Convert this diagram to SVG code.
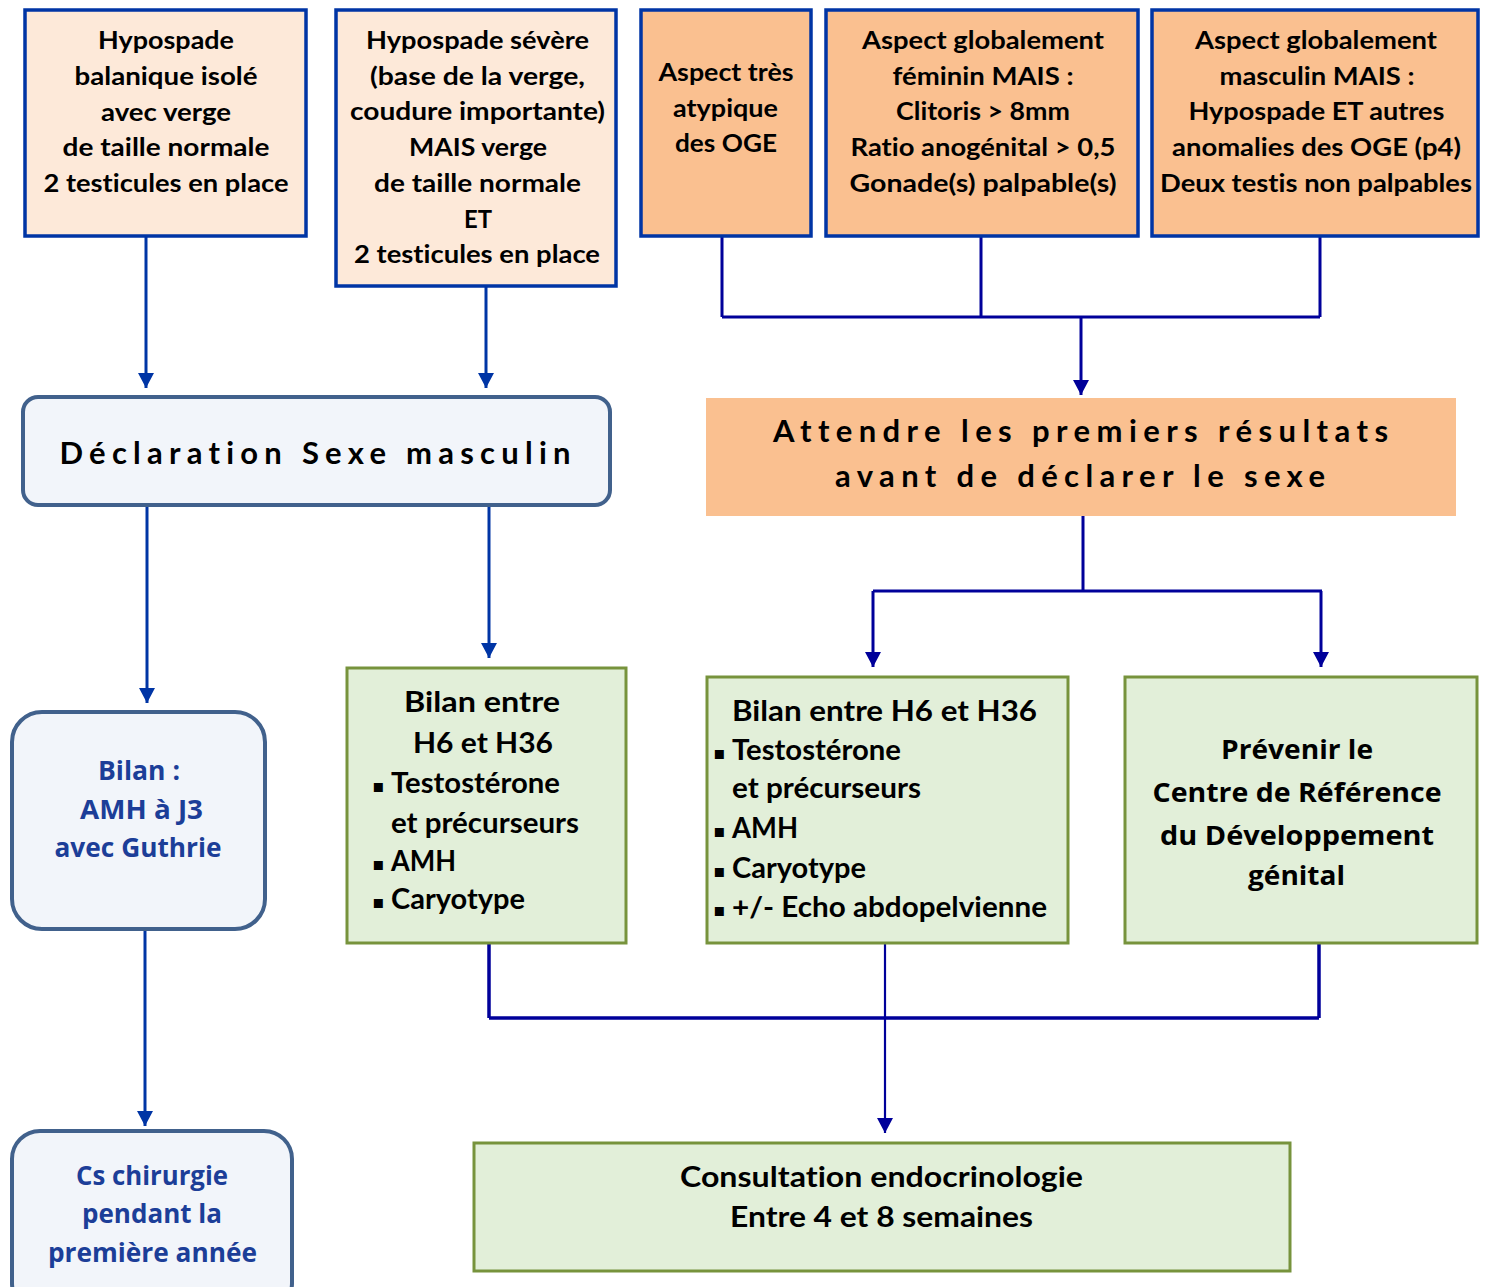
<svg xmlns="http://www.w3.org/2000/svg" width="1488" height="1287" viewBox="0 0 1488 1287">
<style>
text{font-variant-ligatures:none;font-feature-settings:"liga" 0,"clig" 0;}
.t{font-family:Lato,"Liberation Sans",sans-serif;font-weight:bold;fill:#000;}
.c{text-anchor:middle;}
.s25{font-size:25px;}
.s28{font-size:28px;}
.s29{font-size:29px;}
.s31{font-size:31px;}
.o{font-family:"Open Sans","Liberation Sans",sans-serif;font-weight:bold;font-size:27px;text-anchor:middle;}
.blue{fill:#1c3e98;}
.blk{fill:#000;}
.bul{font-family:"DejaVu Sans",sans-serif;font-size:18px;fill:#000;}
.pale{fill:#fde9d9;stroke:#0035a5;stroke-width:3.5;}
.orng{fill:#fac090;stroke:#0035a5;stroke-width:3.5;}
.grn{fill:#e2efd9;stroke:#77933c;stroke-width:3;}
.rnd{fill:#f2f5fa;stroke:#41618c;stroke-width:4;}
.ca{fill:none;stroke:#0035a5;stroke-width:3;}
.cb{fill:none;stroke:#00009a;stroke-width:3;}
</style>
<defs>
<marker id="arA" markerUnits="userSpaceOnUse" markerWidth="16" markerHeight="16" refX="15" refY="8" orient="auto"><path d="M0,0 L15,8 L0,16 z" fill="#0035a5"/></marker>
<marker id="arB" markerUnits="userSpaceOnUse" markerWidth="16" markerHeight="16" refX="15" refY="8" orient="auto"><path d="M0,0 L15,8 L0,16 z" fill="#00009a"/></marker>
</defs>
<rect width="1488" height="1287" fill="#fff"/>

<g id="connectors">
<path class="ca" d="M146,236 V388" marker-end="url(#arA)"/>
<path class="ca" d="M486,286 V388" marker-end="url(#arA)"/>
<path class="ca" d="M147,505 V703" marker-end="url(#arA)"/>
<path class="ca" d="M489,505 V658" marker-end="url(#arA)"/>
<path class="ca" d="M145,929 V1126" marker-end="url(#arA)"/>
<path class="cb" d="M722,236 V317 M981,236 V317 M1320,236 V317 M722,317 H1320"/>
<path class="cb" d="M1081,317 V395" marker-end="url(#arB)"/>
<path class="cb" d="M1083,516 V591 M873,591 H1322"/>
<path class="cb" d="M873,591 V667" marker-end="url(#arB)"/>
<path class="cb" d="M1321,591 V667" marker-end="url(#arB)"/>
<path class="cb" d="M489,944 V1018 M1319,944 V1018 M489,1018 H1319" style="stroke-width:3.5"/>
<path class="cb" d="M885,944 V1133" style="stroke-width:2.2" marker-end="url(#arB)"/>
</g>

<g id="n1">
<rect class="pale" x="25" y="10" width="281" height="226"/>
<text class="t c s25" x="166" y="49" textLength="136" lengthAdjust="spacingAndGlyphs">Hypospade</text>
<text class="t c s25" x="166" y="85" textLength="183" lengthAdjust="spacingAndGlyphs">balanique isolé</text>
<text class="t c s25" x="166" y="121" textLength="130" lengthAdjust="spacingAndGlyphs">avec verge</text>
<text class="t c s25" x="166" y="156" textLength="207" lengthAdjust="spacingAndGlyphs">de taille normale</text>
<text class="t c s25" x="166" y="192" textLength="245" lengthAdjust="spacingAndGlyphs">2 testicules en place</text>
</g>

<g id="n2">
<rect class="pale" x="336" y="10" width="280" height="276"/>
<text class="t c s25" x="477.5" y="49" textLength="223" lengthAdjust="spacingAndGlyphs">Hypospade sévère</text>
<text class="t c s25" x="477.5" y="85" textLength="215" lengthAdjust="spacingAndGlyphs">(base de la verge,</text>
<text class="t c s25" x="477.5" y="120" textLength="255" lengthAdjust="spacingAndGlyphs">coudure importante)</text>
<text class="t c s25" x="478" y="156" textLength="138" lengthAdjust="spacingAndGlyphs">MAIS verge</text>
<text class="t c s25" x="477.5" y="192" textLength="207" lengthAdjust="spacingAndGlyphs">de taille normale</text>
<text class="t c s25" x="478" y="228" textLength="28" lengthAdjust="spacingAndGlyphs">ET</text>
<text class="t c s25" x="477" y="263" textLength="246" lengthAdjust="spacingAndGlyphs">2 testicules en place</text>
</g>

<g id="n3">
<rect class="orng" x="641" y="10" width="170" height="226"/>
<text class="t c s25" x="726" y="81" textLength="135" lengthAdjust="spacingAndGlyphs">Aspect très</text>
<text class="t c s25" x="725.5" y="117" textLength="105" lengthAdjust="spacingAndGlyphs">atypique</text>
<text class="t c s25" x="726" y="152" textLength="102" lengthAdjust="spacingAndGlyphs">des OGE</text>
</g>

<g id="n4">
<rect class="orng" x="826" y="10" width="312" height="226"/>
<text class="t c s25" x="983" y="49" textLength="242" lengthAdjust="spacingAndGlyphs">Aspect globalement</text>
<text class="t c s25" x="983" y="85" textLength="181" lengthAdjust="spacingAndGlyphs">féminin MAIS :</text>
<text class="t c s25" x="983" y="120" textLength="174" lengthAdjust="spacingAndGlyphs">Clitoris &gt; 8mm</text>
<text class="t c s25" x="983" y="156" textLength="265" lengthAdjust="spacingAndGlyphs">Ratio anogénital &gt; 0,5</text>
<text class="t c s25" x="983" y="192" textLength="267" lengthAdjust="spacingAndGlyphs">Gonade(s) palpable(s)</text>
</g>

<g id="n5">
<rect class="orng" x="1152" y="10" width="326" height="226"/>
<text class="t c s25" x="1316" y="49" textLength="242" lengthAdjust="spacingAndGlyphs">Aspect globalement</text>
<text class="t c s25" x="1317" y="85" textLength="195" lengthAdjust="spacingAndGlyphs">masculin MAIS :</text>
<text class="t c s25" x="1316.5" y="120" textLength="256" lengthAdjust="spacingAndGlyphs">Hypospade ET autres</text>
<text class="t c s25" x="1316.5" y="156" textLength="289" lengthAdjust="spacingAndGlyphs">anomalies des OGE (p4)</text>
<text class="t c s25" x="1316" y="192" textLength="312" lengthAdjust="spacingAndGlyphs">Deux testis non palpables</text>
</g>

<g id="n6">
<rect class="rnd" x="23" y="397" width="587" height="108" rx="15"/>
<text class="t c s31" x="315" y="464" textLength="511" lengthAdjust="spacing">Déclaration Sexe masculin</text>
</g>

<g id="n7">
<rect x="706" y="398" width="750" height="118" fill="#fac090"/>
<text class="t c s31" x="1080.5" y="442" textLength="615" lengthAdjust="spacing">Attendre les premiers résultats</text>
<text class="t c s31" x="1080" y="487" textLength="490" lengthAdjust="spacing">avant de déclarer le sexe</text>
</g>

<g id="n8">
<rect class="rnd" x="12" y="712" width="253" height="217" rx="30"/>
<text class="o blue" x="139" y="780" textLength="82" lengthAdjust="spacingAndGlyphs">Bilan :</text>
<text class="o blue" x="141.5" y="819" textLength="123" lengthAdjust="spacingAndGlyphs">AMH à J3</text>
<text class="o blue" x="138" y="857" textLength="167" lengthAdjust="spacingAndGlyphs">avec Guthrie</text>
</g>

<g id="n9">
<rect class="grn" x="347" y="668" width="279" height="275"/>
<text class="t c s28" x="482" y="712" textLength="156" lengthAdjust="spacingAndGlyphs">Bilan entre</text>
<text class="t c s28" x="483" y="753" textLength="140" lengthAdjust="spacingAndGlyphs">H6 et H36</text>
<text class="bul" x="372" y="792">▪</text>
<text class="t s28" x="391" y="793" textLength="169" lengthAdjust="spacingAndGlyphs">Testostérone</text>
<text class="t s28" x="391" y="833" textLength="188" lengthAdjust="spacingAndGlyphs">et précurseurs</text>
<text class="bul" x="372" y="870">▪</text>
<text class="t s28" x="391" y="871" textLength="65" lengthAdjust="spacingAndGlyphs">AMH</text>
<text class="bul" x="372" y="908">▪</text>
<text class="t s28" x="391" y="909" textLength="134" lengthAdjust="spacingAndGlyphs">Caryotype</text>
</g>

<g id="n10">
<rect class="grn" x="707" y="677" width="361" height="266"/>
<text class="t s28" x="732" y="721" textLength="305" lengthAdjust="spacingAndGlyphs">Bilan entre H6 et H36</text>
<text class="bul" x="713" y="759">▪</text>
<text class="t s28" x="732" y="760" textLength="169" lengthAdjust="spacingAndGlyphs">Testostérone</text>
<text class="t s28" x="732" y="798" textLength="189" lengthAdjust="spacingAndGlyphs">et précurseurs</text>
<text class="bul" x="713" y="837">▪</text>
<text class="t s28" x="732" y="838" textLength="66" lengthAdjust="spacingAndGlyphs">AMH</text>
<text class="bul" x="713" y="877">▪</text>
<text class="t s28" x="732" y="878" textLength="134" lengthAdjust="spacingAndGlyphs">Caryotype</text>
<text class="bul" x="713" y="916">▪</text>
<text class="t s28" x="732" y="917" textLength="315" lengthAdjust="spacingAndGlyphs">+/- Echo abdopelvienne</text>
</g>

<g id="n11">
<rect class="grn" x="1125" y="677" width="352" height="266"/>
<text class="o blk" x="1297" y="759" textLength="152" lengthAdjust="spacingAndGlyphs">Prévenir le</text>
<text class="o blk" x="1297" y="802" textLength="289" lengthAdjust="spacingAndGlyphs">Centre de Référence</text>
<text class="o blk" x="1297" y="845" textLength="274" lengthAdjust="spacingAndGlyphs">du Développement</text>
<text class="o blk" x="1296.5" y="885" textLength="97" lengthAdjust="spacingAndGlyphs">génital</text>
</g>

<g id="n12">
<rect class="rnd" x="12" y="1131" width="280" height="180" rx="28"/>
<text class="o blue" x="152" y="1185" textLength="152" lengthAdjust="spacingAndGlyphs">Cs chirurgie</text>
<text class="o blue" x="152" y="1223" textLength="140" lengthAdjust="spacingAndGlyphs">pendant la</text>
<text class="o blue" x="152.5" y="1262" textLength="209" lengthAdjust="spacingAndGlyphs">première année</text>
</g>

<g id="n13">
<rect class="grn" x="474" y="1143" width="816" height="128"/>
<text class="t c s29" x="881.5" y="1187" textLength="403" lengthAdjust="spacingAndGlyphs">Consultation endocrinologie</text>
<text class="t c s29" x="881.5" y="1227" textLength="303" lengthAdjust="spacingAndGlyphs">Entre 4 et 8 semaines</text>
</g>
</svg>
